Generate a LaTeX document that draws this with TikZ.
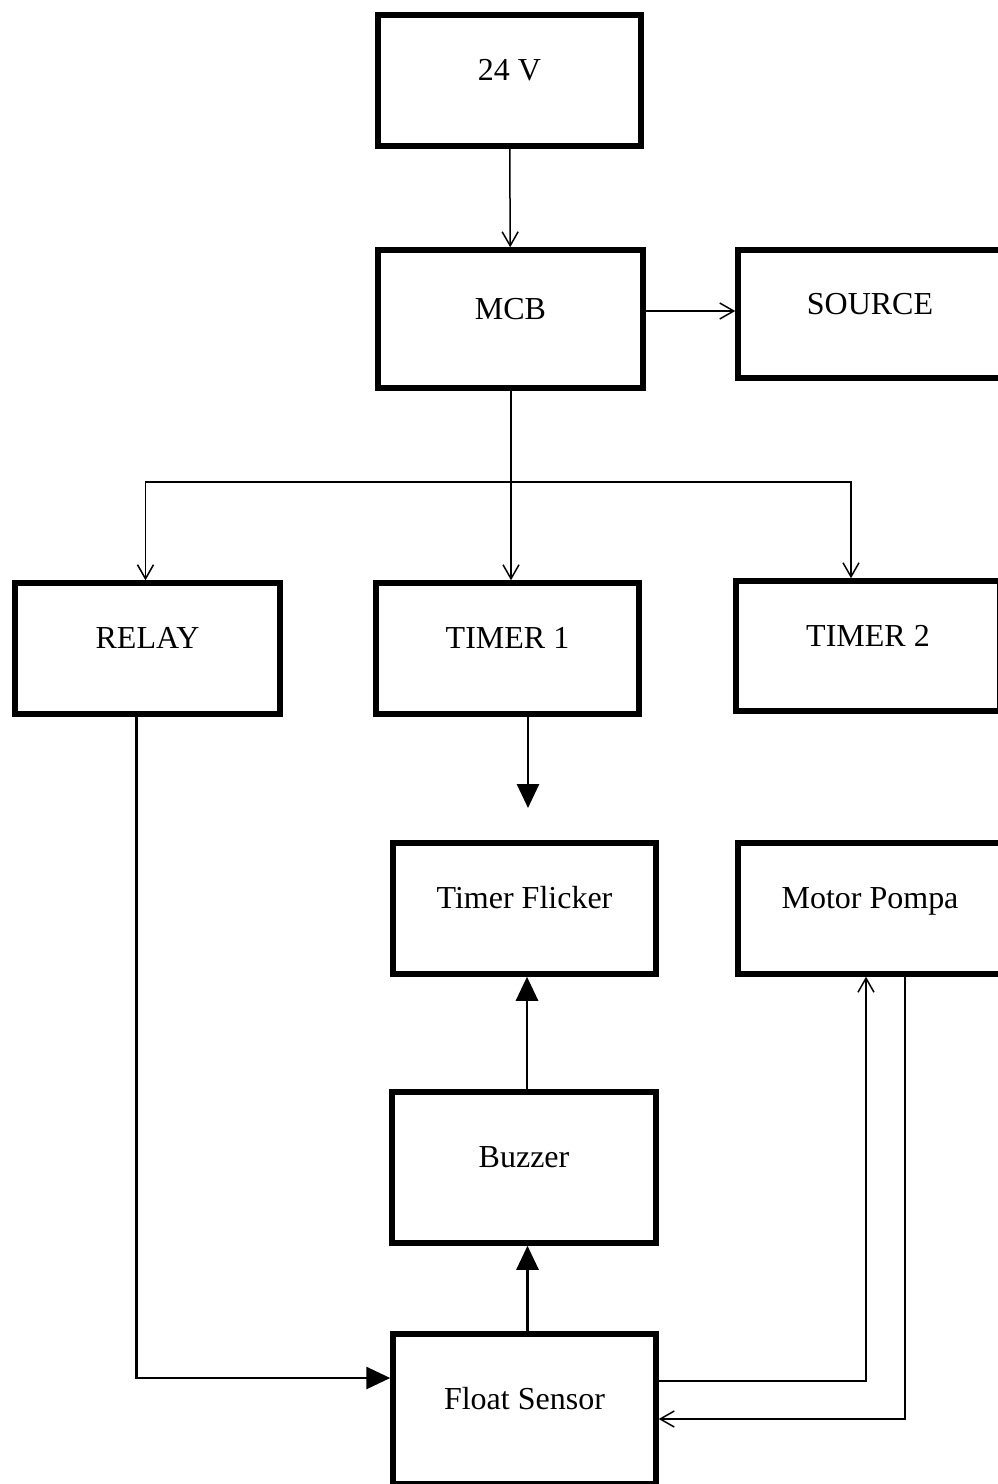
\documentclass[tikz,border=0pt]{standalone}
\usepackage{fontspec}
\setmainfont{Liberation Serif}
\usetikzlibrary{positioning, arrows.meta}
\tikzset{
>={Straight Barb[length=14pt,width=16pt]}, % open heads for the thin wires
block/.style={draw, line width=5.5pt, inner sep=0pt, minimum width=264pt, minimum height=131pt,
  text height=23pt, text depth=23pt, font=\fontsize{32}{38}\selectfont}, % every box of the chart
wire/.style={->, line width=1.5pt}, % thin connector
signal/.style={-{Triangle[length=24pt,width=22pt]}, line width=2.8pt}, % bold connector
}
\begin{document}
\begin{tikzpicture}[x=1pt, y=-1pt]
            \useasboundingbox (0,0) rectangle (998,1484);
            \node[block, minimum width=263pt] (v24) at (509.5,80.5) {24 V};
            \node[block, minimum width=265pt, minimum height=138pt] (mcb) at (510.5,319) {MCB};
            \node[block, minimum height=128pt] (source) at (870,314) {SOURCE};
            \node[block, minimum width=265pt] (relay) at (147.5,648.5) {RELAY};
            \node[block, minimum width=263pt] (timer1) at (507.5,648.5) {TIMER 1};
            \node[block, minimum height=130pt] (timer2) at (868,646) {TIMER 2};
            \node[block, minimum width=263pt] (flicker) at (524.5,908.5) {Timer Flicker};
            \node[block] (motor) at (870,908.5) {Motor Pompa};
            \node[block, minimum height=151pt] (buzzer) at (524,1167.5) {Buzzer};
            \node[block, minimum width=263pt, minimum height=150pt] (float) at (524.5,1409) {Float Sensor};
            \coordinate (bus) at (511,482);
            \coordinate (t1end) at (528,808);
            \draw[wire] (v24) -- (mcb);
            \draw[wire] ([yshift=8pt]mcb.east) -- ([yshift=8pt]mcb.east -| source.west);
            \draw[line width=1.5pt] (mcb.south -| bus) -- (bus);
            \draw[wire] (bus) -| ([xshift=-2pt]relay.north);
            \draw[wire] (bus) -- (bus |- timer1.north);
            \draw[wire] (bus) -| ([xshift=-17pt]timer2.north);
            \draw[signal] (t1end |- timer1.south) -- (t1end);
            \draw[signal] ([xshift=3pt]buzzer.north) -- ([xshift=3pt]buzzer.north |- flicker.south);
            \draw[signal] ([xshift=3pt]float.north) -- ([xshift=3pt]float.north |- buzzer.south);
            \draw[signal] ([xshift=-11pt]relay.south) |- ([yshift=31pt]float.west);
            \draw[wire] ([yshift=28pt]float.east) -| ([xshift=-4pt]motor.south);
            \draw[wire] ([xshift=35pt]motor.south) |- ([yshift=-10pt]float.east);
\end{tikzpicture}
\end{document}
